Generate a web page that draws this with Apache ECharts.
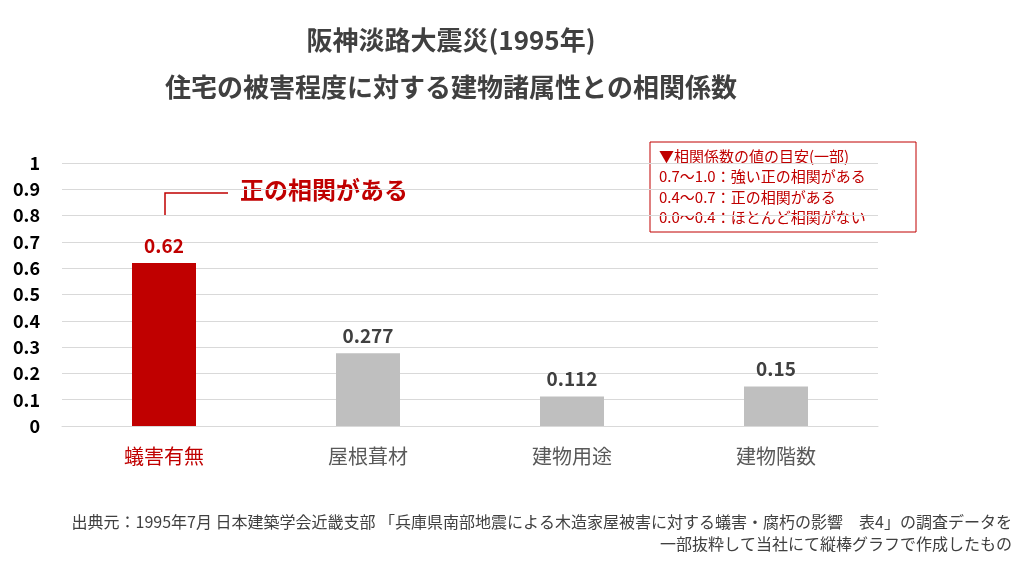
<!DOCTYPE html><html><head><meta charset="utf-8"><script src="https://cdn.jsdelivr.net/npm/echarts@6/dist/echarts.min.js"></script></head><body style="margin:0"><div id="c" style="width:1024px;height:565px"></div><script>
const categories=['蟻害有無','屋根葺材','建物用途','建物階数'];
const values=[0.62,0.277,0.112,0.15];
const labels=['0.62','0.277','0.112','0.15'];
const colors=['#c00000','#bfbfbf','#bfbfbf','#bfbfbf'];
const F='"Noto Sans CJK JP","Noto Sans",sans-serif';
const ch=echarts.init(document.getElementById('c'));
ch.setOption({
title:{text:'阪神淡路大震災(1995年)\n住宅の被害程度に対する建物諸属性との相関係数',left:446,top:12,textAlign:'center',textStyle:{fontFamily:F,fontSize:26,fontWeight:'bold',color:'#404040',lineHeight:47}},
grid:{left:62,right:146,top:163,bottom:139},
xAxis:{type:'category',data:categories,axisLine:{lineStyle:{color:'#d9d9d9'}},axisTick:{show:false},
 axisLabel:{margin:20,fontFamily:F,fontSize:20,color:function(v,i){return i===0?'#c00000':'#595959';}}},
yAxis:{type:'value',min:0,max:1,interval:0.1,axisLabel:{fontFamily:F,fontSize:18,fontWeight:'bold',color:'#000',margin:22,formatter:v=>String(+v.toFixed(1))},splitLine:{lineStyle:{color:'#d9d9d9'}}},
series:[{type:'bar',barWidth:64,data:values.map((v,i)=>({value:v,itemStyle:{color:colors[i]},label:{color:i===0?'#c00000':'#404040'}})),
 label:{show:true,position:'top',distance:8,fontFamily:F,fontSize:19,fontWeight:'bold',formatter:p=>labels[p.dataIndex]}}],
graphic:[
{type:'polyline',shape:{points:[[165,215],[165,193],[228,193]]},style:{stroke:'#c00000',lineWidth:1.5,fill:null}},
{type:'text',left:240,top:178,style:{text:'正の相関がある',fontFamily:F,fontSize:24,fontWeight:'bold',fill:'#c00000'}},
{type:'rect',shape:{x:650,y:142,width:266,height:90},style:{fill:'#fff',stroke:'#c00000',lineWidth:1}},
{type:'text',left:659,top:146,style:{text:'▼相関係数の値の目安(一部)\n0.7～1.0：強い正の相関がある\n0.4～0.7：正の相関がある\n0.0～0.4：ほとんど相関がない',fontFamily:F,fontSize:15,lineHeight:20.5,fill:'#c00000'}},
{type:'text',right:12,top:514,style:{text:'出典元：1995年7月 日本建築学会近畿支部 「兵庫県南部地震による木造家屋被害に対する蟻害・腐朽の影響　表4」の調査データを',fontFamily:F,fontSize:16,fill:'#404040'}},
{type:'text',right:12,top:536,style:{text:'一部抜粋して当社にて縦棒グラフで作成したもの',fontFamily:F,fontSize:16,fill:'#404040'}}
]});
</script></body></html>
